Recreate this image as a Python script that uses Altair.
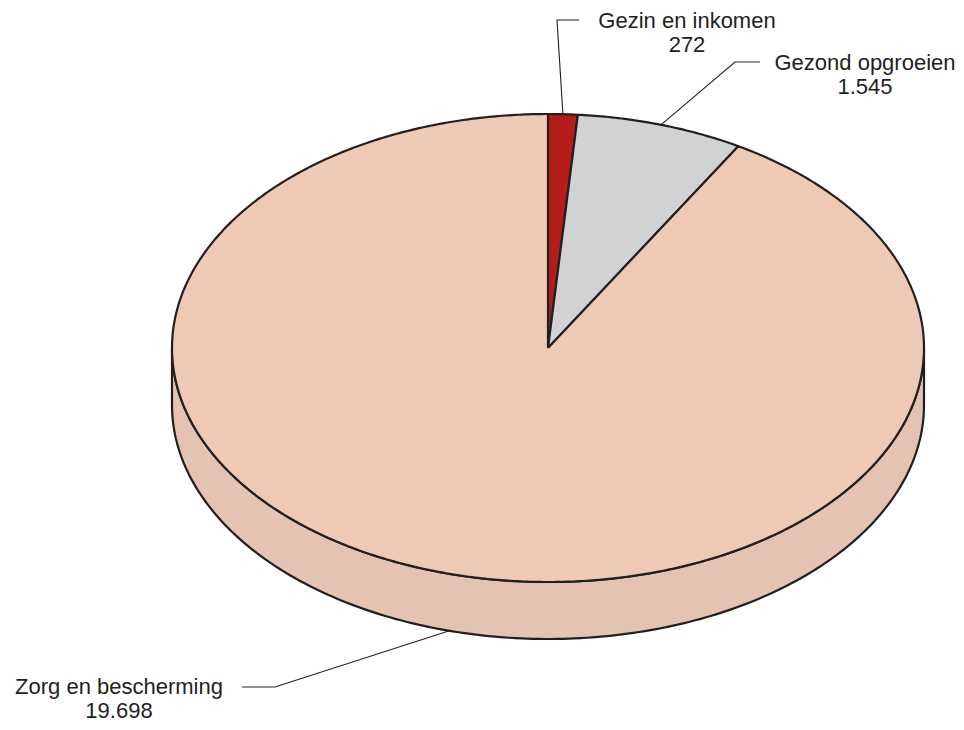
import altair as alt
import numpy as np
import pandas as pd

# ---- data ----
categories = ["Gezin en inkomen", "Gezond opgroeien", "Zorg en bescherming"]
values = [272, 1545, 19698]
value_labels = ["272", "1.545", "19.698"]
colors = ["#b31e18", "#d1d2d4", "#eecab6"]
side_color = "#e4c3b2"

# ---- layout (page pixel coordinates) ----
CX, CY, RX, RY, DEPTH = 548, 348, 376, 234, 57
W, H = 948, 714
label_surface = ["top", "top", "bottom"]
label_elbow = [(557, 20), (735, 62), (275, 687)]
label_end = [(579, 20), (760, 62), (242, 687)]
label_text = [(687, 21), (865, 63), (119, 687)]
LINE_GAP = 24


def ept(a_deg, dy=0.0):
    a = np.radians(a_deg)
    return CX + RX * np.sin(a), CY - RY * np.cos(a) + dy


total = float(sum(values))
cum = np.concatenate([[0.0], np.cumsum(values)]) / total * 360.0

# slice polygons
rows = []
for i, cat in enumerate(categories):
    a0, a1 = cum[i], cum[i + 1]
    n = max(4, int((a1 - a0) * 2))
    pts = [(CX, CY)] + [ept(a) for a in np.linspace(a0, a1, n)] + [(CX, CY)]
    for k, (x, y) in enumerate(pts):
        rows.append({"cat": cat, "x": x, "y": y, "o": k})
slices = pd.DataFrame(rows)

# side wall (front half)
side_pts = [ept(a) for a in np.linspace(90, 270, 200)] + \
           [ept(a, DEPTH) for a in np.linspace(270, 90, 200)]
side_pts.append(side_pts[0])
side = pd.DataFrame([{"x": x, "y": y, "o": k} for k, (x, y) in enumerate(side_pts)])

# leader lines
lrows = []
for i, cat in enumerate(categories):
    mid = (cum[i] + cum[i + 1]) / 2
    sx, sy = ept(mid, DEPTH if label_surface[i] == "bottom" else 0)
    for k, (x, y) in enumerate([(sx, sy), label_elbow[i], label_end[i]]):
        lrows.append({"cat": cat, "x": x, "y": y, "o": k})
leaders = pd.DataFrame(lrows)

trows = []
for i, cat in enumerate(categories):
    tx, ty = label_text[i]
    trows.append({"t": cat, "x": tx, "y": ty})
    trows.append({"t": value_labels[i], "x": tx, "y": ty + LINE_GAP})
texts = pd.DataFrame(trows)

xs = alt.Scale(domain=[8, 8 + W], nice=False, zero=False)
ys = alt.Scale(domain=[8, 8 + H], nice=False, zero=False, reverse=True)
X = alt.X("x:Q", scale=xs, axis=None)
Y = alt.Y("y:Q", scale=ys, axis=None)

side_layer = alt.Chart(side).mark_line(
    fill=side_color, stroke="#231f20", strokeWidth=2.2, strokeJoin="round"
).encode(x=X, y=Y, order="o:Q")

slice_layer = alt.Chart(slices).mark_line(
    stroke="#231f20", strokeWidth=2.2, strokeJoin="round"
).encode(
    x=X, y=Y, order="o:Q",
    fill=alt.Fill("cat:N", scale=alt.Scale(domain=categories, range=colors), legend=None),
)

leader_layer = alt.Chart(leaders).mark_line(
    stroke="#231f20", strokeWidth=1.1
).encode(x=X, y=Y, order="o:Q", detail="cat:N")

text_layer = alt.Chart(texts).mark_text(
    font="Liberation Sans", fontSize=22, color="#231f20", align="center", baseline="middle"
).encode(x=X, y=Y, text="t:N")

chart = alt.layer(side_layer, slice_layer, leader_layer, text_layer).properties(
    width=W, height=H, autosize="none", padding=0
).configure_view(stroke=None)

chart.save("out.html", embed_options={"renderer": "svg", "actions": False})
